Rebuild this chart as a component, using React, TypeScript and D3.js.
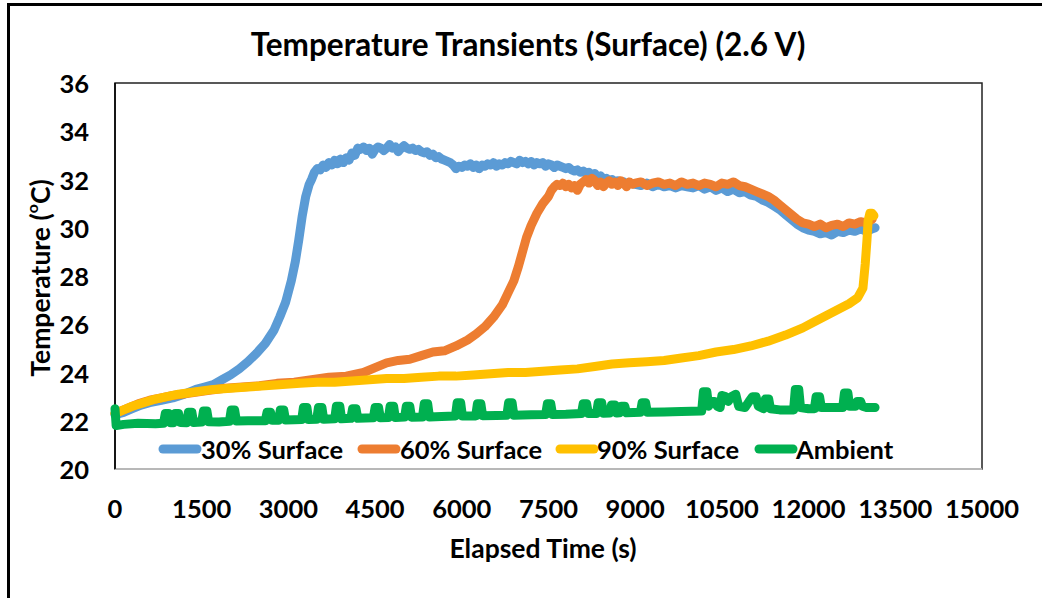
import React from "react";
import * as d3 from "d3";

const xTicks = [0, 1500, 3000, 4500, 6000, 7500, 9000, 10500, 12000, 13500, 15000];
const yTicks = [20, 22, 24, 26, 28, 30, 32, 34, 36];

const seriesNames = ["30% Surface", "60% Surface", "90% Surface", "Ambient"];
const seriesColors = ["#5B9BD5", "#ED7D31", "#FFC000", "#00B050"];

const surface30: [number, number][] = [
  [0, 22.25], [150, 22.35], [300, 22.5], [450, 22.65], [600, 22.75], [800, 22.85], [1000, 22.95],
  [1200, 23.1], [1400, 23.3], [1550, 23.4], [1700, 23.5], [1850, 23.7], [2000, 23.9], [2150, 24.15],
  [2300, 24.45], [2450, 24.8], [2600, 25.2], [2750, 25.75], [2850, 26.3], [2950, 26.9], [3050, 27.8],
  [3120, 28.6], [3180, 29.5], [3240, 30.5], [3300, 31.3], [3360, 31.8],
  [3400, 32.0], [3450, 32.3], [3500, 32.45], [3550, 32.4], [3600, 32.6], [3650, 32.5], [3700, 32.7],
  [3750, 32.6], [3800, 32.8], [3850, 32.65], [3900, 32.85], [3950, 32.7], [4000, 32.9], [4050, 32.8],
  [4100, 33.1], [4150, 33.0], [4200, 33.3], [4250, 33.25], [4300, 33.35], [4350, 33.2], [4400, 33.3],
  [4450, 33.05], [4500, 33.25], [4550, 33.35], [4600, 33.3], [4650, 33.2], [4700, 33.3], [4750, 33.45],
  [4800, 33.3], [4850, 33.35], [4900, 33.15], [4950, 33.3], [5000, 33.4], [5050, 33.3], [5100, 33.25],
  [5150, 33.3], [5200, 33.2], [5250, 33.25], [5300, 33.15], [5350, 33.1], [5400, 33.15], [5450, 33.0],
  [5500, 33.05], [5550, 32.9], [5600, 32.95], [5650, 32.85], [5700, 32.8], [5750, 32.75], [5800, 32.7],
  [5850, 32.6], [5900, 32.45], [5950, 32.55], [6000, 32.5], [6050, 32.6], [6100, 32.55], [6150, 32.65],
  [6200, 32.5], [6250, 32.6], [6300, 32.45], [6350, 32.6], [6400, 32.55], [6450, 32.65], [6500, 32.6],
  [6550, 32.7], [6600, 32.55], [6650, 32.65], [6700, 32.6], [6750, 32.7], [6800, 32.65], [6850, 32.75],
  [6900, 32.7], [6950, 32.65], [7000, 32.8], [7050, 32.7], [7100, 32.75], [7150, 32.65], [7200, 32.75],
  [7250, 32.6], [7300, 32.7], [7350, 32.65], [7400, 32.7], [7450, 32.55], [7500, 32.65], [7550, 32.6],
  [7600, 32.5], [7650, 32.6], [7700, 32.55], [7750, 32.5], [7800, 32.45], [7850, 32.5], [7900, 32.4],
  [7950, 32.35], [8000, 32.4], [8050, 32.3], [8100, 32.35], [8150, 32.25], [8200, 32.3], [8250, 32.15],
  [8300, 32.25], [8350, 32.1], [8400, 32.15], [8450, 32.0], [8500, 32.05], [8550, 31.95], [8600, 32.0],
  [8650, 31.9], [8700, 31.95], [8750, 31.85], [8800, 31.9], [8850, 31.8], [8900, 31.85], [9000, 31.8],
  [9100, 31.75], [9200, 31.85], [9300, 31.7], [9400, 31.8], [9500, 31.7], [9600, 31.75], [9700, 31.65],
  [9800, 31.75], [9900, 31.7], [10000, 31.65], [10100, 31.75], [10200, 31.6], [10300, 31.7],
  [10400, 31.55], [10500, 31.65], [10600, 31.5], [10700, 31.6], [10800, 31.45], [10900, 31.5],
  [11000, 31.35], [11100, 31.3], [11200, 31.15], [11300, 31.05], [11400, 30.9], [11500, 30.75],
  [11600, 30.55], [11700, 30.35], [11800, 30.15], [11900, 30.0], [12000, 29.9], [12100, 29.85],
  [12200, 29.75], [12300, 29.8], [12400, 29.7], [12500, 29.85], [12600, 29.8], [12700, 29.9],
  [12800, 29.85], [12900, 29.95], [13000, 29.85], [13100, 29.95], [13150, 30.0],
];

const surface60: [number, number][] = [
  [0, 22.3], [200, 22.5], [400, 22.7], [600, 22.85], [800, 22.95], [1000, 23.05], [1300, 23.15],
  [1600, 23.25], [1900, 23.35], [2200, 23.4], [2500, 23.45], [2800, 23.55], [3100, 23.6], [3400, 23.7],
  [3700, 23.8], [4000, 23.85], [4300, 24.0], [4500, 24.2], [4700, 24.4], [4900, 24.5], [5100, 24.55],
  [5300, 24.7], [5500, 24.85], [5700, 24.9], [5900, 25.1], [6100, 25.35], [6250, 25.6], [6400, 25.9],
  [6550, 26.3], [6700, 26.8], [6800, 27.3], [6900, 27.8], [6980, 28.4], [7050, 29.0], [7120, 29.6],
  [7200, 30.1], [7300, 30.6], [7400, 31.0], [7500, 31.3], [7550, 31.55], [7600, 31.7], [7650, 31.8],
  [7700, 31.75], [7750, 31.85], [7800, 31.7], [7850, 31.8], [7900, 31.65], [7950, 31.75], [8000, 31.55],
  [8050, 31.8], [8100, 31.9], [8150, 32.0], [8200, 31.85], [8250, 32.05], [8300, 31.95], [8350, 31.75],
  [8400, 31.9], [8450, 31.7], [8500, 31.85], [8550, 31.95], [8600, 31.8], [8650, 31.9], [8700, 31.75],
  [8750, 31.95], [8800, 31.85], [8850, 31.7], [8900, 31.9], [8950, 31.8], [9000, 31.85], [9100, 31.9],
  [9200, 31.75], [9300, 31.85], [9400, 31.9], [9500, 31.8], [9600, 31.85], [9700, 31.75], [9800, 31.9],
  [9900, 31.8], [10000, 31.85], [10100, 31.75], [10200, 31.85], [10300, 31.8], [10400, 31.7],
  [10500, 31.85], [10600, 31.8], [10700, 31.9], [10800, 31.75], [10900, 31.7], [11000, 31.6],
  [11100, 31.5], [11200, 31.4], [11300, 31.3], [11400, 31.15], [11500, 30.95], [11600, 30.75],
  [11700, 30.55], [11800, 30.35], [11900, 30.2], [12000, 30.15], [12100, 30.05], [12200, 30.15],
  [12300, 30.0], [12400, 30.1], [12500, 30.15], [12600, 30.05], [12700, 30.2], [12800, 30.15],
  [12900, 30.25], [13000, 30.2], [13100, 30.35],
];

const surface90: [number, number][] = [
  [0, 22.3], [150, 22.45], [300, 22.6], [500, 22.75], [700, 22.9], [900, 23.0], [1100, 23.1],
  [1400, 23.2], [1700, 23.3], [2000, 23.35], [2300, 23.4], [2600, 23.45], [2900, 23.5], [3200, 23.55],
  [3500, 23.6], [3800, 23.6], [4100, 23.65], [4400, 23.7], [4700, 23.75], [5000, 23.75], [5300, 23.8],
  [5600, 23.85], [5900, 23.85], [6200, 23.9], [6500, 23.95], [6800, 24.0], [7100, 24.0], [7400, 24.05],
  [7700, 24.1], [8000, 24.15], [8300, 24.25], [8600, 24.35], [8900, 24.4], [9200, 24.45], [9500, 24.5],
  [9800, 24.6], [10100, 24.7], [10400, 24.85], [10700, 24.95], [11000, 25.1], [11300, 25.3],
  [11600, 25.55], [11900, 25.85], [12100, 26.1], [12300, 26.35], [12500, 26.6], [12700, 26.85],
  [12850, 27.1], [12940, 27.5], [12980, 28.5], [13010, 29.5], [13030, 30.3], [13060, 30.6],
  [13100, 30.6], [13130, 30.5],
];

const ambient: [number, number][] = [
  [0, 22.5], [20, 21.8], [150, 21.85], [400, 21.9], [700, 21.88],
  [840, 21.9], [870, 22.3], [930, 22.3], [960, 21.92],
  [1010, 21.92], [1040, 22.3], [1100, 22.3], [1130, 21.93],
  [1240, 21.92], [1270, 22.35], [1330, 22.35], [1360, 21.93],
  [1500, 21.95], [1530, 22.4], [1590, 22.4], [1620, 21.96],
  [1800, 21.95],
  [1980, 21.98], [2010, 22.45], [2070, 22.45], [2100, 21.99],
  [2300, 22.0],
  [2600, 22.0], [2630, 22.35], [2690, 22.35], [2720, 22.02],
  [2830, 22.02], [2860, 22.45], [2920, 22.45], [2950, 22.03],
  [3100, 22.04],
  [3230, 22.05], [3260, 22.55], [3320, 22.55], [3350, 22.05],
  [3490, 22.06], [3520, 22.55], [3580, 22.55], [3610, 22.06],
  [3800, 22.08], [3830, 22.6], [3890, 22.6], [3920, 22.08],
  [4080, 22.1], [4110, 22.5], [4170, 22.5], [4200, 22.1],
  [4470, 22.12], [4500, 22.55], [4560, 22.55], [4590, 22.12],
  [4730, 22.13], [4760, 22.6], [4820, 22.6], [4850, 22.13],
  [5010, 22.15], [5040, 22.6], [5100, 22.6], [5130, 22.15],
  [5320, 22.16], [5350, 22.7], [5410, 22.7], [5440, 22.16],
  [5650, 22.18],
  [5890, 22.2], [5920, 22.75], [5980, 22.75], [6010, 22.2],
  [6240, 22.2], [6270, 22.7], [6330, 22.7], [6360, 22.21],
  [6600, 22.22],
  [6780, 22.23], [6810, 22.75], [6870, 22.75], [6900, 22.23],
  [7200, 22.25],
  [7450, 22.26], [7480, 22.7], [7540, 22.7], [7570, 22.26],
  [7800, 22.27],
  [8070, 22.3], [8100, 22.7], [8160, 22.7], [8190, 22.3],
  [8330, 22.3], [8360, 22.75], [8420, 22.75], [8450, 22.31],
  [8560, 22.32], [8590, 22.65], [8650, 22.65], [8680, 22.32],
  [8730, 22.33], [8760, 22.6], [8820, 22.6], [8850, 22.33],
  [9090, 22.35], [9120, 22.75], [9180, 22.75], [9210, 22.35],
  [9500, 22.36], [9800, 22.38],
  [10150, 22.4], [10180, 23.2], [10240, 23.2], [10270, 22.6], [10320, 22.8], [10380, 22.8], [10420, 22.6],
  [10470, 22.55], [10500, 23.05], [10560, 23.0], [10610, 22.8], [10660, 23.0], [10740, 23.1], [10790, 22.6],
  [10900, 22.55], [10970, 22.8], [11030, 23.0], [11090, 23.0], [11130, 22.6],
  [11220, 22.5], [11250, 22.9], [11310, 22.9], [11340, 22.5],
  [11500, 22.45],
  [11740, 22.45], [11770, 23.3], [11830, 23.3], [11860, 22.55],
  [12000, 22.5],
  [12100, 22.5], [12130, 23.0], [12190, 23.0], [12220, 22.55],
  [12400, 22.55],
  [12590, 22.55], [12620, 23.15], [12680, 23.15], [12710, 22.6],
  [12810, 22.6], [12840, 22.8], [12900, 22.8], [12930, 22.6],
  [13000, 22.55], [13150, 22.55],
];

const allSeries = [surface30, surface60, surface90, ambient];

const W = 1042;
const H = 598;
const plot = { left: 115, right: 982, top: 83, bottom: 469 };
const FONT = "Lato, 'Open Sans', sans-serif";

export default function App() {
  const x = d3.scaleLinear().domain([0, 15000]).range([plot.left, plot.right]);
  const y = d3.scaleLinear().domain([20, 36]).range([plot.bottom, plot.top]);
  const line = d3
    .line<[number, number]>()
    .x((d) => x(d[0]))
    .y((d) => y(d[1]));

  const legendY = 449;
  const legendItems = [
    { lx: 163, tx: 201 },
    { lx: 362, tx: 400 },
    { lx: 560, tx: 597 },
    { lx: 759, tx: 796 },
  ];

  return (
    <svg
      width={W}
      height={H}
      style={{ position: "absolute", left: 0, top: 0, background: "#fff" }}
      fontFamily={FONT}
    >
      <rect x={0} y={0} width={W} height={H} fill="#fff" />
      <rect x={8.5} y={4.5} width={W + 20} height={H + 20} fill="none" stroke="#000" strokeWidth={3} />

      <text x={528} y={44} textAnchor="middle" dominantBaseline="central" fontSize={31.5} fontWeight={700} fill="#000">
        Temperature Transients (Surface) (2.6 V)
      </text>

      <rect
        x={plot.left}
        y={plot.top}
        width={plot.right - plot.left}
        height={plot.bottom - plot.top}
        fill="#fff"
        stroke="#222"
        strokeWidth={1.5}
      />
      <line x1={plot.left} x2={plot.right} y1={plot.bottom} y2={plot.bottom} stroke="#D9D9D9" strokeWidth={1.5} />
      <line x1={plot.left} x2={plot.left} y1={plot.top} y2={plot.bottom} stroke="#000" strokeWidth={1.5} />

      {yTicks.map((t) => (
        <text key={t} x={89} y={y(t)} textAnchor="end" dominantBaseline="central" fontSize={25.5} fontWeight={700} fill="#000">
          {t}
        </text>
      ))}
      {xTicks.map((t) => (
        <text key={t} x={x(t)} y={508} textAnchor="middle" dominantBaseline="central" fontSize={25.5} fontWeight={700} fill="#000">
          {t}
        </text>
      ))}

      <text x={543} y={548} textAnchor="middle" dominantBaseline="central" fontSize={26.5} fontWeight={700} fill="#000">
        Elapsed Time (s)
      </text>
      <text
        transform={`translate(40, 278) rotate(-90)`}
        textAnchor="middle"
        dominantBaseline="central"
        fontSize={26.5}
        fontWeight={700}
        fill="#000"
      >
        Temperature (
        <tspan fontSize={16} dy={-9}>o</tspan>
        <tspan dy={9}>C)</tspan>
      </text>

      <g>
        {allSeries.map((s, i) => (
          <path
            key={seriesNames[i]}
            d={line(s) || ""}
            fill="none"
            stroke={seriesColors[i]}
            strokeWidth={9}
            strokeLinejoin="round"
            strokeLinecap="round"
          />
        ))}
      </g>

      {legendItems.map((it, i) => (
        <g key={seriesNames[i]}>
          <line
            x1={it.lx}
            x2={it.lx + 34}
            y1={legendY}
            y2={legendY}
            stroke={seriesColors[i]}
            strokeWidth={9}
            strokeLinecap="round"
          />
          <text x={it.tx} y={legendY} dominantBaseline="central" fontSize={25.5} fontWeight={700} fill="#000">
            {seriesNames[i]}
          </text>
        </g>
      ))}
    </svg>
  );
}
